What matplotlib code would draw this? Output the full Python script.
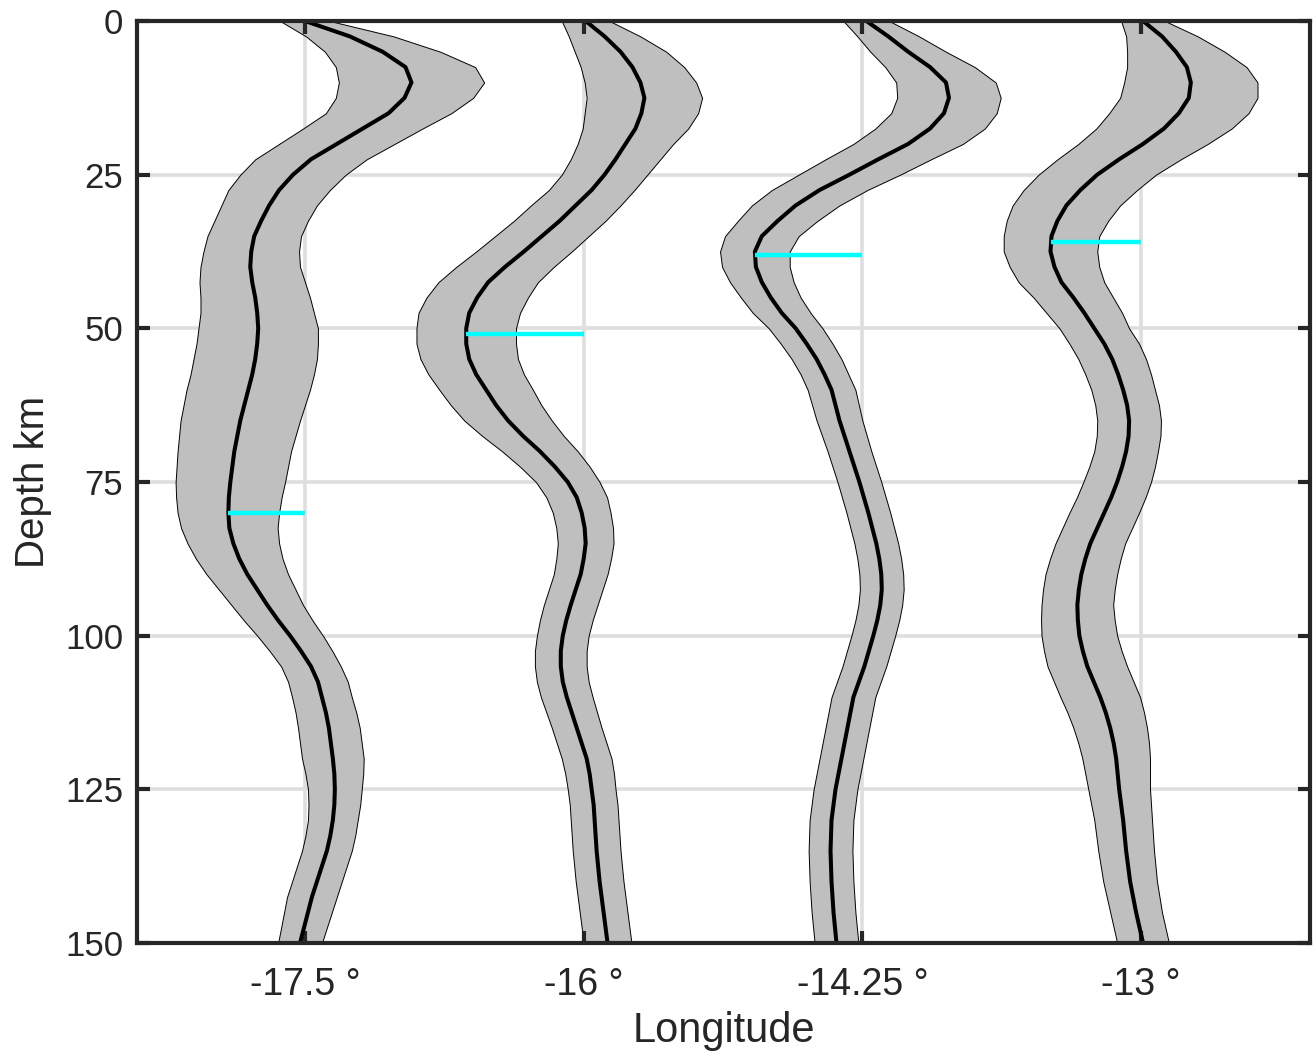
import numpy as np
import matplotlib
matplotlib.use("Agg")
import matplotlib.pyplot as plt

plt.rcParams['font.family'] = ['Liberation Sans', 'DejaVu Sans']

# depth nodes of the profiles (km)
depth = [0, 2.5, 5, 7.5, 10, 12.5, 15, 17.5, 20, 22.5, 25, 27.5, 30, 32.5,
         35, 37.5, 40, 42.5, 45, 47.5, 50, 52.5, 55, 57.5, 60,
         62.5, 65, 67.5, 70, 72.5, 75, 77.5, 80, 82.5, 85, 87.5, 90, 92.5,
         95, 97.5, 100, 102.5, 105, 107.5, 110, 112.5, 115, 117.5, 120,
         122.5, 125, 127.5, 130, 132.5, 135, 137.5, 140, 142.5, 145, 147.5,
         150]

lon_labels = ['-17.5 °', '-16 °', '-14.25 °', '-13 °']

# mean shift of each profile from its baseline, and its spread (1 sigma)
shift_175 = [0, 45, 78, 101, 107, 100, 84, 58, 32, 6, -12, -26, -36, -44,
             -51, -54, -55, -53, -50, -48, -47, -48, -50, -53, -57,
             -61, -65, -68, -71, -73, -75, -76.5, -77, -76, -72, -66, -58,
             -48, -38, -27, -15, -4, 6, 13, 17, 21, 24, 26, 28, 29.5, 30,
             29.5, 28, 25.5, 22, 17, 12, 7, 3, -1, -5]
spread_175 = [25, 44, 58, 70, 73, 69, 63, 60, 58, 56, 53, 51, 48, 47,
              47, 48, 50, 53, 55, 57, 60, 61, 62, 62, 62,
              61, 60, 58.5, 57, 56, 55, 53, 51, 48.5, 46, 43.5, 41, 38.5,
              36, 34.5, 33, 31.5, 30, 30, 30, 30.5, 31, 31, 31, 29, 27,
              26, 25, 25, 25, 25, 25, 25, 24, 23, 22]

shift_16 = [2, 21, 37, 49, 57, 61, 58, 52, 42, 32, 21, 8, -8, -24,
            -42, -60, -79, -96, -107, -115, -118, -118, -115, -108, -98,
            -88, -76, -61, -44, -29, -16, -7, -2, 1, 2, 0, -3, -8, -13,
            -17.5, -21, -23, -23, -21, -17, -12, -7, -2, 3, 6, 8, 10, 11,
            12, 13, 14.5, 16, 18, 20, 22, 24]
spread_16 = [24, 36, 46, 52, 56, 58, 57, 53, 48, 45, 43, 43, 45, 46,
             47, 48, 49, 50, 51, 51, 50, 50, 49, 48, 47,
             45.5, 44, 41, 38, 35, 32, 30.5, 29, 28.5, 28, 27.5, 27, 27,
             27, 26.5, 26, 26, 26, 26, 26, 25.5, 25, 25, 25, 24.5, 24, 24,
             24, 24, 24, 24, 24, 24, 24, 24, 24]

shift_1425 = [4, 26, 46, 68, 84, 87, 82, 68, 46, 16, -13, -43, -67, -85,
              -101, -108, -107, -101, -92, -81, -67, -56, -46, -38, -31,
              -27, -23, -18, -13, -8, -3, 1.5, 6, 10, 14, 17, 19, 19.5, 18,
              15, 11, 6.5, 2, -3.5, -9, -12, -15, -18, -21, -24, -27, -29,
              -31, -31.5, -32, -31.5, -31, -30, -29, -27.5, -26]
spread_1425 = [23, 31, 38, 45, 50, 52, 53, 55, 55, 53, 51, 48, 44, 40,
               37, 35, 34, 32, 30, 29, 27, 26, 25, 24, 24,
               23.5, 23, 22.5, 22, 22, 22, 22, 22, 22, 22, 22, 22, 22, 22,
               22, 22, 22, 22, 22, 22, 22, 22, 22, 22, 22, 22, 22, 22, 22,
               22, 22, 22, 22, 22, 22, 22]

shift_13 = [2, 21, 35, 46, 50, 48, 38, 23, 2, -22, -44, -61, -75, -84,
            -90, -91, -87, -80, -68, -57, -47, -37, -29, -23, -18,
            -14, -12, -12.5, -15, -19, -24, -30, -37, -44, -51, -56, -60,
            -62.5, -64, -63.5, -62, -58.5, -54, -47.5, -41, -35.5, -31,
            -27.5, -25, -23.5, -22, -20, -18, -16.5, -15, -13, -11, -8, -5,
            -1.5, 2]
spread_13 = [22, 36, 49, 60, 67, 69, 70, 68, 65, 62, 59, 57, 54, 51,
             48, 47, 45, 43, 40, 38, 35, 35, 34, 33, 32,
             32, 32, 32, 32, 33, 34, 34.5, 35, 35, 35, 35.5, 36, 36, 36,
             37, 38, 39, 40, 40, 40, 38.5, 37, 35.5, 34, 32.5, 31, 30, 29,
             28.5, 28, 27.5, 27, 26.5, 26, 26, 26]

# depth of the low-velocity marker for each profile (km)
marker_depth = [80, 51, 38, 36]

GAP = 280.0  # horizontal spacing between profile baselines

profiles = [(shift_175, spread_175), (shift_16, spread_16),
            (shift_1425, spread_1425), (shift_13, spread_13)]

fig = plt.figure(figsize=(13.16, 10.61), dpi=100)
ax = fig.add_axes([0.1041, 0.1112, 0.8913, 0.8690])

z = np.array(depth)
bases = [i * GAP for i in range(len(profiles))]
yticks = [0, 25, 50, 75, 100, 125, 150]

# light grid behind the bands
for b in bases:
    ax.axvline(b, color='#dedede', lw=2.6, zorder=0)
for t in yticks[1:-1]:
    ax.axhline(t, color='#dedede', lw=2.6, zorder=0)

for base, (mu, sd), md in zip(bases, profiles, marker_depth):
    mu = np.array(mu, dtype=float)
    sd = np.array(sd, dtype=float)
    ax.fill_betweenx(z, base + mu - sd, base + mu + sd, facecolor='#bfbfbf',
                     edgecolor='black', linewidth=0.7, joinstyle='round',
                     zorder=1)
    ax.plot(base + mu, z, color='black', lw=2.9, solid_joinstyle='round',
            zorder=2)
    x0 = base + np.interp(md, z, mu)
    ax.plot([x0, base], [md, md], color='cyan', lw=3.2,
            solid_capstyle='butt', zorder=3)

ax.set_xlim(-0.6028 * GAP, 3.606 * GAP)
ax.set_ylim(150, 0)
ax.set_xticks(bases)
ax.set_xticklabels(lon_labels)
ax.set_yticks(yticks)

ax.tick_params(direction='in', length=9, width=3, color='#262626',
               top=True, right=True, labelcolor='#262626')
ax.tick_params(axis='x', pad=17, labelsize=27)
ax.tick_params(axis='y', pad=10, labelsize=25)
for s in ax.spines.values():
    s.set_linewidth(3)
    s.set_color('#262626')
    s.set_zorder(5)

ax.set_xlabel('Longitude', fontsize=30, color='#262626', labelpad=6)
ax.set_ylabel('Depth km', fontsize=29, color='#262626', labelpad=9)

fig.savefig('out.png', dpi=100)
